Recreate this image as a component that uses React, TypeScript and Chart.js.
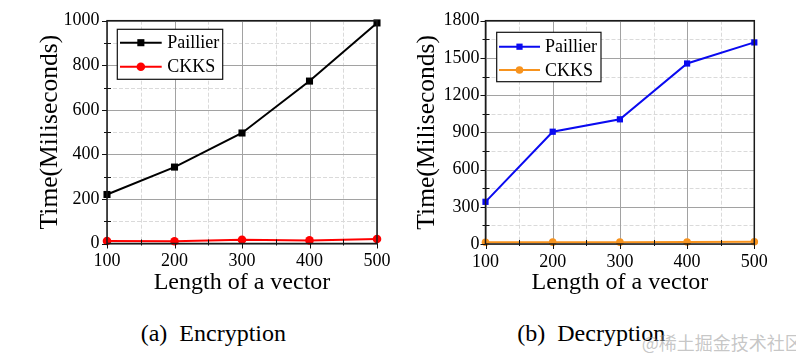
import React, { useEffect, useRef } from "react";
import { Chart, registerables } from "chart.js";

Chart.register(...registerables);

// ---- data ----
const vectorLengths = [100, 200, 300, 400, 500];
const encPaillier = [220, 343, 496, 729, 990];
const encCKKS = [11, 10, 17, 14, 20];
const decPaillier = [340, 905, 1005, 1455, 1625];
const decCKKS = [14, 15, 15, 16, 18];

const xTicks = [100, 150, 200, 250, 300, 350, 400, 450, 500];
const xMajorStep = 100;
const encYTicks = [0, 100, 200, 300, 400, 500, 600, 700, 800, 900, 1000];
const encYMajorStep = 200;
const decYTicks = [0, 150, 300, 450, 600, 750, 900, 1050, 1200, 1350, 1500, 1650, 1800];
const decYMajorStep = 300;

const seriesNames = ["Paillier", "CKKS"];
const xTitle = "Length of a vector";
const yTitle = "Time(Miliseconds)";

const FONT = '"Liberation Serif", "Times New Roman", serif';

const decorPlugin = {
  id: "decor",
  beforeDatasetsDraw(chart: any, _args: any, opts: any) {
    const { ctx, chartArea: a, scales } = chart;
    const xs = scales.x;
    const ys = scales.y;
    ctx.save();
    ctx.lineWidth = 1;
    // minor grid first
    const drawSet = (major: boolean) => {
      ctx.strokeStyle = major ? "#a2a2a2" : "#dadada";
      ctx.setLineDash(major ? [] : [4, 2]);
      xs.ticks.forEach((t: any) => {
        const isMajor = t.value % opts.xMajor === 0;
        if (isMajor !== major) return;
        const px = Math.round(xs.getPixelForValue(t.value)) + 0.5;
        ctx.beginPath();
        ctx.moveTo(px, a.top);
        ctx.lineTo(px, a.bottom);
        ctx.stroke();
      });
      ys.ticks.forEach((t: any) => {
        const isMajor = t.value % opts.yMajor === 0;
        if (isMajor !== major) return;
        const py = Math.round(ys.getPixelForValue(t.value)) + 0.5;
        ctx.beginPath();
        ctx.moveTo(a.left, py);
        ctx.lineTo(a.right, py);
        ctx.stroke();
      });
    };
    drawSet(false);
    drawSet(true);
    ctx.restore();
  },
  afterDraw(chart: any, _args: any, opts: any) {
    const { ctx, chartArea: a, scales } = chart;
    const xs = scales.x;
    const ys = scales.y;
    ctx.save();
    ctx.strokeStyle = "#111";
    ctx.lineWidth = 1;
    // x ticks
    xs.ticks.forEach((t: any) => {
      const px = Math.round(xs.getPixelForValue(t.value)) + 0.5;
      const major = t.value % opts.xMajor === 0;
      ctx.beginPath();
      if (major) {
        ctx.moveTo(px, a.bottom);
        ctx.lineTo(px, a.bottom + 5);
      } else {
        ctx.moveTo(px, a.bottom + 2);
        ctx.lineTo(px, a.bottom - 4);
      }
      ctx.stroke();
    });
    ys.ticks.forEach((t: any) => {
      const py = Math.round(ys.getPixelForValue(t.value)) + 0.5;
      const major = t.value % opts.yMajor === 0;
      ctx.beginPath();
      if (major) {
        ctx.moveTo(a.left, py);
        ctx.lineTo(a.left - 5, py);
      } else {
        ctx.moveTo(a.left - 3, py);
        ctx.lineTo(a.left + 4, py);
      }
      ctx.stroke();
    });
    // frame
    ctx.strokeStyle = "#1a1a1a";
    ctx.lineWidth = 1.5;
    ctx.strokeRect(a.left, a.top, a.right - a.left, a.bottom - a.top);

    // legend
    const L = opts.legend;
    ctx.fillStyle = "#fff";
    ctx.fillRect(L.box[0], L.box[1], L.box[2] - L.box[0], L.box[3] - L.box[1]);
    ctx.strokeStyle = "#111";
    ctx.lineWidth = 1.2;
    ctx.strokeRect(L.box[0], L.box[1], L.box[2] - L.box[0], L.box[3] - L.box[1]);
    chart.data.datasets.forEach((ds: any, i: number) => {
      const y = L.rows[i];
      ctx.strokeStyle = ds.borderColor;
      ctx.lineWidth = 2;
      ctx.beginPath();
      ctx.moveTo(L.line[0], y);
      ctx.lineTo(L.line[1], y);
      ctx.stroke();
      const mx = (L.line[0] + L.line[1]) / 2;
      ctx.fillStyle = ds.backgroundColor;
      if (ds.pointStyle === "rect") {
        const s = ds.pointRadius * Math.SQRT2;
        ctx.fillRect(mx - s / 2, y - s / 2, s, s);
      } else {
        ctx.beginPath();
        ctx.arc(mx, y, ds.pointRadius, 0, Math.PI * 2);
        ctx.fill();
      }
      ctx.fillStyle = "#000";
      ctx.font = `18px ${FONT}`;
      ctx.textBaseline = "middle";
      ctx.textAlign = "left";
      ctx.fillText(ds.label, L.textX, y + 1);
    });
    ctx.restore();
  },
};

type Cfg = {
  paillier: number[];
  ckks: number[];
  pColor: string;
  cColor: string;
  pRadius: number;
  cRadius: number;
  yTicks: number[];
  yMajor: number;
  yMax: number;
  yWidth: number;
  yTitlePad: number;
  yTickPad: number;
  xHeight: number;
  padTop: number;
  padRight: number;
  legend: any;
};

function makeConfig(c: Cfg): any {
  return {
    type: "line",
    data: {
      datasets: [
        {
          label: seriesNames[0],
          data: vectorLengths.map((x, i) => ({ x, y: c.paillier[i] })),
          borderColor: c.pColor,
          backgroundColor: c.pColor,
          borderWidth: 2,
          pointStyle: "rect",
          pointRadius: c.pRadius,
          pointBorderWidth: 0,
          tension: 0,
          clip: false,
        },
        {
          label: seriesNames[1],
          data: vectorLengths.map((x, i) => ({ x, y: c.ckks[i] })),
          borderColor: c.cColor,
          backgroundColor: c.cColor,
          borderWidth: 2,
          pointStyle: "circle",
          pointRadius: c.cRadius,
          pointBorderWidth: 0,
          tension: 0,
          clip: false,
        },
      ],
    },
    options: {
      responsive: false,
      animation: false,
      events: [],
      layout: { padding: { top: c.padTop, right: c.padRight, left: 0, bottom: 0 } },
      plugins: {
        legend: { display: false },
        tooltip: { enabled: false },
        decor: { xMajor: xMajorStep, yMajor: c.yMajor, legend: c.legend },
      },
      scales: {
        x: {
          type: "linear",
          min: vectorLengths[0],
          max: vectorLengths[vectorLengths.length - 1],
          afterBuildTicks: (s: any) => {
            s.ticks = xTicks.map((v) => ({ value: v }));
          },
          afterFit: (s: any) => {
            s.height = c.xHeight;
          },
          border: { display: false },
          grid: { display: false, drawTicks: false },
          ticks: {
            autoSkip: false,
            maxRotation: 0,
            minRotation: 0,
            padding: 7,
            color: "#000",
            font: { family: FONT, size: 18 },
            callback: (v: any) => (v % xMajorStep === 0 ? String(v) : ""),
          },
          title: {
            display: true,
            text: xTitle,
            color: "#000",
            font: { family: FONT, size: 24 },
            padding: { top: 0, bottom: 3 },
          },
        },
        y: {
          type: "linear",
          min: 0,
          max: c.yMax,
          afterBuildTicks: (s: any) => {
            s.ticks = c.yTicks.map((v) => ({ value: v }));
          },
          afterFit: (s: any) => {
            s.width = c.yWidth;
          },
          border: { display: false },
          grid: { display: false, drawTicks: false },
          ticks: {
            autoSkip: false,
            padding: c.yTickPad,
            color: "#000",
            font: { family: FONT, size: 18 },
            callback: (v: any) => (v % c.yMajor === 0 ? String(v) : ""),
          },
          title: {
            display: true,
            text: yTitle,
            color: "#000",
            font: { family: FONT, size: 25.5 },
            padding: { top: c.yTitlePad, bottom: 0 },
          },
        },
      },
    },
    plugins: [decorPlugin],
  };
}

function ChartCanvas({ cfg }: { cfg: Cfg }) {
  const ref = useRef<HTMLCanvasElement | null>(null);
  useEffect(() => {
    if (!ref.current) return;
    const chart = new Chart(ref.current, makeConfig(cfg));
    return () => chart.destroy();
  }, []);
  return <canvas ref={ref} width={398} height={300} style={{ width: 398, height: 300, display: "block" }} />;
}

const encCfg: Cfg = {
  paillier: encPaillier,
  ckks: encCKKS,
  pColor: "#000000",
  cColor: "#ff0000",
  pRadius: 5,
  cRadius: 4.3,
  yTicks: encYTicks,
  yMajor: encYMajorStep,
  yMax: 1000,
  yWidth: 107,
  yTitlePad: 34.7,
  yTickPad: 7.5,
  xHeight: 56.5,
  padTop: 20.7,
  padRight: 21,
  legend: { box: [117.3, 29.3, 222.7, 79.3], line: [120, 161.7], textX: 167.3, rows: [42.7, 66.7] },
};

const decCfg: Cfg = {
  paillier: decPaillier,
  ckks: decCKKS,
  pColor: "#0a0af0",
  cColor: "#f7931e",
  pRadius: 4.4,
  cRadius: 3.8,
  yTicks: decYTicks,
  yMajor: decYMajorStep,
  yMax: 1800,
  yWidth: 87.5,
  yTitlePad: 13.7,
  yTickPad: 6,
  xHeight: 56,
  padTop: 20.7,
  padRight: 41.7,
  legend: { box: [98.7, 32.3, 203, 81.7], line: [101, 142], textX: 147, rows: [46.7, 70] },
};

export default function App() {
  const capStyle: React.CSSProperties = {
    position: "absolute",
    top: 320.6,
    fontFamily: FONT,
    fontSize: 24,
    lineHeight: "24px",
    whiteSpace: "pre",
    color: "#000",
  };
  return (
    <div
      style={{
        position: "absolute",
        left: 0,
        top: 0,
        width: 796,
        height: 357,
        background: "#fff",
        overflow: "hidden",
      }}
    >
      <div style={{ position: "absolute", left: 0, top: 0 }}>
        <ChartCanvas cfg={encCfg} />
      </div>
      <div style={{ position: "absolute", left: 398, top: 0 }}>
        <ChartCanvas cfg={decCfg} />
      </div>
      <div style={{ ...capStyle, left: 140.7 }}>{"(a)  Encryption"}</div>
      <div style={{ ...capStyle, left: 517.3 }}>{"(b)  Decryption"}</div>
      <div
        style={{
          position: "absolute",
          left: 641.7,
          top: 333,
          fontFamily: '"Noto Sans CJK SC", sans-serif',
          fontSize: 18,
          lineHeight: "18px",
          whiteSpace: "pre",
          color: "rgba(150,150,150,0.55)",
        }}
      >
        {"@稀土掘金技术社区"}
      </div>
    </div>
  );
}
